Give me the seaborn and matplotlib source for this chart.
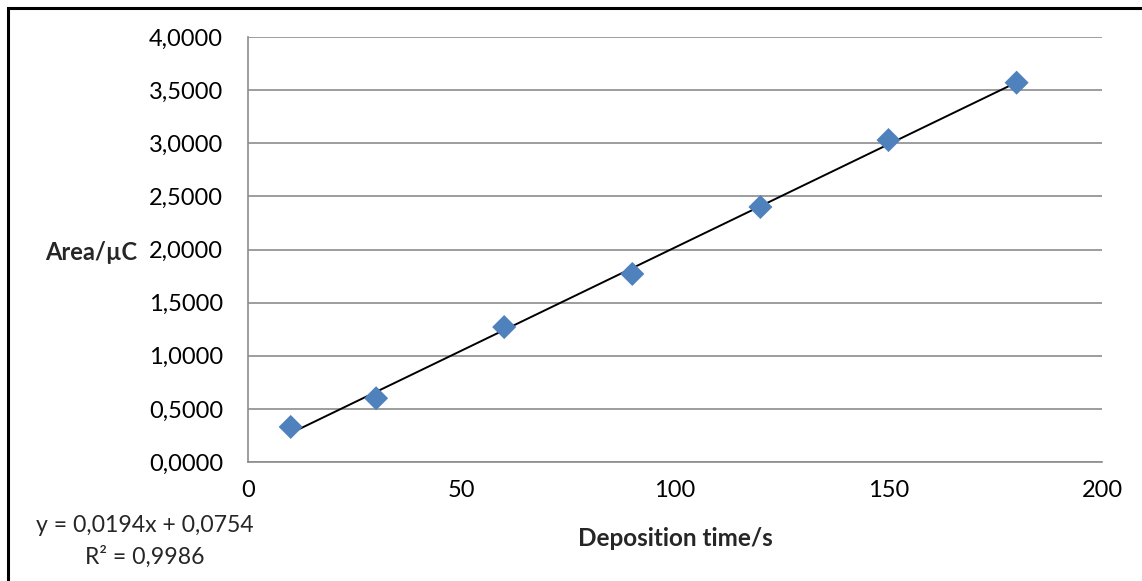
import numpy as np
import pandas as pd
import matplotlib
matplotlib.use("Agg")
import matplotlib.pyplot as plt
import matplotlib.patches as mpatches
from matplotlib.ticker import FuncFormatter, MultipleLocator
import seaborn as sns

# ---- data ----
deposition_time = [10, 30, 60, 90, 120, 150, 180]
area_uC = [0.33, 0.60, 1.27, 1.77, 2.40, 3.03, 3.57]
equation_text = "y = 0,0194x + 0,0754"
r2_text = "R² = 0,9986"
x_label = "Deposition time/s"
y_label = "Area/µC"

df = pd.DataFrame({"t": deposition_time, "a": area_uC})

sns.set_theme(style="white")
plt.rcParams["font.family"] = ["Lato", "DejaVu Sans"]

fig = plt.figure(figsize=(11.42, 5.81), dpi=100)
W, H = 1142, 581
ax = fig.add_axes([248 / W, 1 - 462 / H, (1102 - 248) / W, (462 - 37) / H])

# trendline from least squares fit of the data
coef = np.polyfit(df["t"], df["a"], 1)
tx = np.array([df["t"].min(), df["t"].max()])
ax.plot(tx, np.polyval(coef, tx), color="black", lw=1.4, zorder=3)

sns.scatterplot(data=df, x="t", y="a", marker="D", s=150, color="#4F81BD",
                edgecolor="none", ax=ax, zorder=4)

ax.set_xlim(0, 200)
ax.set_ylim(0, 4)
ax.xaxis.set_major_locator(MultipleLocator(50))
ax.yaxis.set_major_locator(MultipleLocator(0.5))
ax.yaxis.set_major_formatter(FuncFormatter(lambda v, p: f"{v:.4f}".replace(".", ",")))
ax.xaxis.set_major_formatter(FuncFormatter(lambda v, p: f"{v:g}"))
ax.grid(axis="y", color="#8c8c8c", lw=1.2)
ax.set_axisbelow(True)
for s in ["top", "right"]:
    ax.spines[s].set_visible(False)
for s in ["left", "bottom"]:
    ax.spines[s].set_color("#8c8c8c")
    ax.spines[s].set_linewidth(1.2)
ax.tick_params(axis="both", length=0, labelsize=17, colors="black")
ax.tick_params(axis="y", pad=18)
ax.tick_params(axis="x", pad=13)
ax.set_xlabel("")
ax.set_ylabel("")

fig.text(675 / W, 1 - 538 / H, x_label, ha="center", va="center",
         fontsize=17.5, fontweight="bold")
fig.text(137 / W, 1 - 252 / H, y_label, ha="right", va="center",
         fontsize=17, fontweight="bold")
fig.text(145 / W, 1 - 525 / H, equation_text, ha="center", va="center", fontsize=16.6)
fig.text(145 / W, 1 - 557 / H, r2_text, ha="center", va="center", fontsize=16.6)

# outer chart border (right/bottom edges lie outside the image)
border = mpatches.Rectangle((7.5 / W, -0.1), 1.2, 1 - 7.5 / H + 0.1,
                            transform=fig.transFigure, fill=False,
                            edgecolor="black", lw=2.2)
fig.patches.append(border)

fig.savefig("out.png", dpi=100)
